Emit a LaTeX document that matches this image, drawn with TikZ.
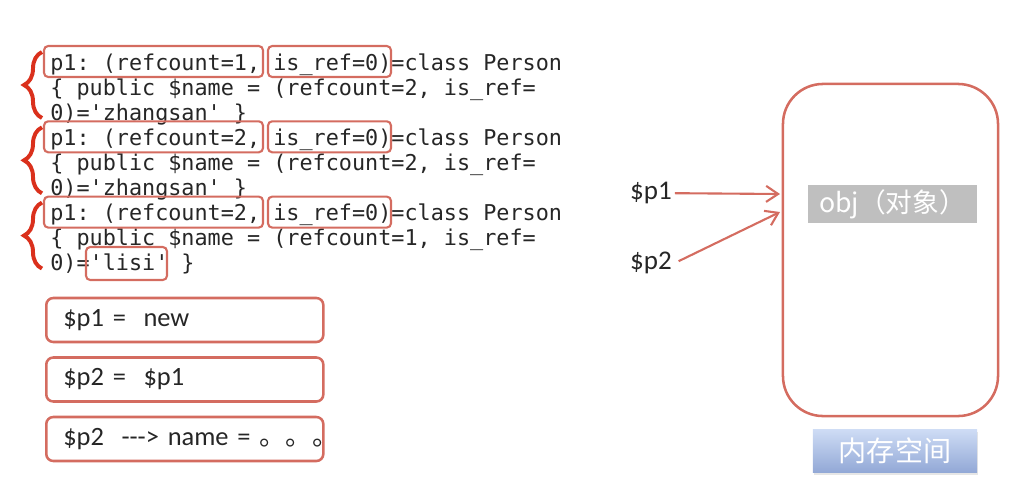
\documentclass[tikz,border=0pt]{standalone}
\usepackage{fontspec}
\setmainfont{Carlito}
\newfontfamily\codefont{DejaVu Sans Mono}
\newfontfamily\cjk{Noto Sans CJK SC}
\usetikzlibrary{arrows.meta,decorations.pathreplacing,shadows}
\frenchspacing
\definecolor{boxred}{RGB}{212,108,96}
\definecolor{bracered}{RGB}{218,48,28}
\definecolor{objgray}{RGB}{191,191,191}
\definecolor{inktext}{RGB}{38,38,38}
\definecolor{memtop}{RGB}{206,220,245}
\definecolor{membot}{RGB}{146,168,214}
\tikzset{
  code/.style={anchor=base west, inner sep=0pt, text=inktext, font=\codefont\fontsize{15.5}{17.9}\selectfont},
  hl/.style={draw=boxred, line width=1.5pt, rounded corners=3pt},
  grp/.style={draw=bracered, line width=2.8pt, decorate, decoration={brace, amplitude=0.45cm}},
  cmd/.style={draw=boxred, line width=1.8pt, rounded corners=5pt, anchor=west, minimum width=6.925cm, minimum height=1.1cm, text width=6.075cm, inner xsep=0.425cm, align=left, text=inktext, font=\fontsize{18.8}{23}\selectfont},
  var/.style={inner sep=2pt, text=inktext, font=\fontsize{19.2}{23}\selectfont},
  heap/.style={draw=boxred, line width=1.8pt, rounded corners=1cm, minimum width=5.375cm, minimum height=8.3cm},
  ptr/.style={draw=boxred, line width=1.5pt, -{Straight Barb[length=3mm,width=4mm]}},
}
\begin{document}
\begin{tikzpicture}[x=0.025cm,y=-0.025cm]
  \useasboundingbox (0,0) rectangle (1027,482);
  % code lines
  \node[code] (a1) at (50,70) {p1: (refcount=1, is\_ref=0)=class Person};
  \node[code] (a2) at (50,95.1) {\{ public \$name = (refcount=2, is\_ref=};
  \node[code] (a3) at (50,120.2) {0)=\textquotesingle zhangsan\textquotesingle\ \}};
  \node[code] (b1) at (50,145.3) {p1: (refcount=2, is\_ref=0)=class Person};
  \node[code] (b2) at (50,170.4) {\{ public \$name = (refcount=2, is\_ref=};
  \node[code] (b3) at (50,195.5) {0)=\textquotesingle zhangsan\textquotesingle\ \}};
  \node[code] (c1) at (50,220.6) {p1: (refcount=2, is\_ref=0)=class Person};
  \node[code] (c2) at (50,245.7) {\{ public \$name = (refcount=1, is\_ref=};
  \node[code] (c3) at (50,270.8) {0)=\textquotesingle lisi\textquotesingle\ \}};
  % marks
  \draw[hl] (44,46) rectangle (263,77);
  \draw[hl] (268,46) rectangle (391,77);
  \draw[hl] (44,121.3) rectangle (263,152.3);
  \draw[hl] (268,121.3) rectangle (391,152.3);
  \draw[hl] (44,196.6) rectangle (263,227.6);
  \draw[hl] (268,196.6) rectangle (391,227.6);
  \draw[hl] (86,247) rectangle (167,280);
  \draw[grp] (42,118) -- (42,52);
  \draw[grp] (42,193.3) -- (42,127.3);
  \draw[grp] (42,268.6) -- (42,202.6);
  % steps
  \node[cmd] (s1) at (45,320) {\$p1 =\ \ new};
  \node[cmd] (s2) at (45,379.5) {\$p2 =\ \ \$p1};
  \node[cmd] (s3) at (45,439) {\mbox{\$p2\ \ -{}-{}-> name = {\cjk 。。。}}};
  % memory
  \node[heap] (mem) at (890.5,250) {};
  \node[fill=objgray, text=white, minimum width=4.225cm, minimum height=0.95cm, font=\cjk\fontsize{19}{22}\selectfont] (obj) at (892.5,204) {obj（对象）};
  \node[top color=memtop, bottom color=membot, text=white, minimum width=4.1cm, minimum height=1.075cm, drop shadow={opacity=0.2, shadow xshift=0.02cm, shadow yshift=-0.06cm}, font=\cjk\fontsize{20}{23}\selectfont] (memname) at (895,451) {内存空间};
  \node[var] (p1) at (651,193) {\$p1};
  \node[var] (p2) at (651,263) {\$p2};
  \coordinate (in1) at (780,194);
  \coordinate (in2) at (780,212);
  \draw[ptr] (p1) -- (in1);
  \draw[ptr, shorten <=3pt] (p2.east) -- (in2);
\end{tikzpicture}
\end{document}
